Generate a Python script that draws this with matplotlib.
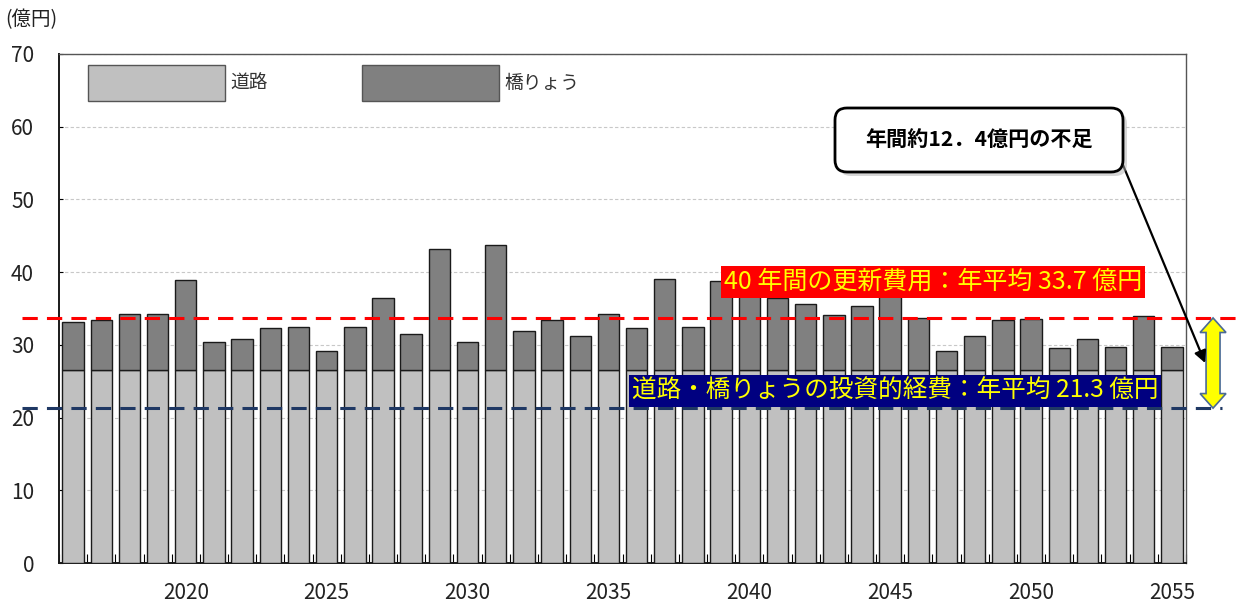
import numpy as np
import matplotlib.pyplot as plt
from matplotlib.patches import FancyBboxPatch, Polygon, Patch

plt.rcParams['font.family'] = ['Noto Sans CJK JP', 'DejaVu Sans']

# 年度ごとの更新費用（億円）
years = list(range(2016, 2056))
road = [26.6] * 40
bridge = [6.6, 6.8, 7.7, 7.7, 12.3, 3.8, 4.2, 5.7, 5.9, 2.5,
          5.9, 9.9, 4.9, 16.6, 3.8, 17.1, 5.3, 6.8, 4.6, 7.7,
          5.7, 12.5, 5.9, 12.2, 10.4, 9.8, 9.0, 7.5, 8.8, 10.4,
          7.1, 2.5, 4.6, 6.8, 7.0, 2.9, 4.2, 3.1, 7.3, 3.1]
avg_total = 33.7
avg_invest = 21.3
shortfall_text = '年間約12．4億円の不足'
label_total = '40 年間の更新費用：年平均 33.7 億円'
label_invest = '道路・橋りょうの投資的経費：年平均 21.3 億円'
yticks = [0, 10, 20, 30, 40, 50, 60, 70]
xticks = [2020, 2025, 2030, 2035, 2040, 2045, 2050, 2055]

fig = plt.figure(figsize=(12.45, 6.03), dpi=100)
ax = fig.add_axes([59 / 1245, 1 - 563 / 603, 1127 / 1245, 509 / 603])

ax.bar(years, road, width=0.76, color='#c0c0c0', edgecolor='#1a1a1a', linewidth=1.0, zorder=3)
ax.bar(years, bridge, bottom=road, width=0.76, color='#808080', edgecolor='#1a1a1a', linewidth=1.0, zorder=3)

ax.set_xlim(2015.5, 2055.5)
ax.set_ylim(0, 70)
ax.set_yticks(yticks)
ax.set_xticks(xticks)
ax.set_xticks(np.arange(2015.5, 2056, 1), minor=True)
ax.tick_params(axis='y', direction='in', length=3, pad=18, labelsize=15, labelcolor='#222222')
ax.tick_params(axis='x', which='major', length=0, pad=14, labelsize=15, labelcolor='#222222')
ax.tick_params(axis='x', which='minor', direction='in', length=6.5, width=0.8)
ax.yaxis.grid(True, color='#c8c8c8', linestyle=(0, (3, 2)), linewidth=0.8, zorder=0)
for side in ['left', 'bottom']:
    ax.spines[side].set_color('#1a1a1a')
    ax.spines[side].set_linewidth(1.4)
for side in ['top', 'right']:
    ax.spines[side].set_color('#555555')
    ax.spines[side].set_linewidth(1.0)

ax.legend([Patch(facecolor='#c0c0c0', edgecolor='#555555'), Patch(facecolor='#808080', edgecolor='#555555')],
          ['道路', '橋りょう'], loc='upper left', bbox_to_anchor=(0.026, 0.978), ncol=2,
          frameon=False, fontsize=13.5, handlelength=7.3, handleheight=2.6, handletextpad=0.3,
          columnspacing=5.0, borderpad=0, borderaxespad=0, labelcolor='#333333')

fig.text(5 / 1245, 1 - 20 / 603, '(億円)', fontsize=14, color='#222222', va='center', ha='left')

# 平均ライン（軸の外まで伸ばす）
trans = ax.get_yaxis_transform()
ax.plot([-0.033, 1.05], [avg_total, avg_total], transform=trans, color='#ff0000',
        linewidth=2.2, dashes=(5, 3), clip_on=False, zorder=5)
ax.plot([-0.033, 1.032], [avg_invest, avg_invest], transform=trans, color='#1f3864',
        linewidth=2.2, dashes=(5, 3), clip_on=False, zorder=5)

fig.text(724 / 1245, 1 - 282 / 603, label_total, fontsize=18, color='#ffff00', va='center', ha='left',
         bbox=dict(facecolor='#ff0000', edgecolor='none', pad=2), zorder=6)
fig.text(632 / 1245, 1 - 391 / 603, label_invest, fontsize=17.7, color='#ffff00', va='center', ha='left',
         bbox=dict(facecolor='#000080', edgecolor='none', pad=2), zorder=6)

# 不足分を示す両矢印
cx, hw, hh, hl = 1.024, 0.0062, 0.0115, 2.0
arrow_pts = [(cx, avg_total), (cx + hh, avg_total - hl), (cx + hw, avg_total - hl),
             (cx + hw, avg_invest + hl), (cx + hh, avg_invest + hl), (cx, avg_invest),
             (cx - hh, avg_invest + hl), (cx - hw, avg_invest + hl), (cx - hw, avg_total - hl),
             (cx - hh, avg_total - hl)]
ax.add_patch(Polygon(arrow_pts, closed=True, transform=trans, facecolor='#ffff00',
                     edgecolor='#4a6a96', linewidth=1.2, clip_on=False, zorder=6))

# 吹き出し
shadow = FancyBboxPatch((8.39, 4.27), 2.88, 0.64, boxstyle='round,pad=0,rounding_size=0.12',
                        transform=fig.dpi_scale_trans, facecolor='#b0b0b0', edgecolor='none', alpha=0.5)
box = FancyBboxPatch((8.35, 4.31), 2.88, 0.64, boxstyle='round,pad=0,rounding_size=0.12',
                     transform=fig.dpi_scale_trans, facecolor='white', edgecolor='black', linewidth=2)
fig.patches.extend([shadow, box])
fig.text(9.79 / 12.45, 4.63 / 6.03, shortfall_text, fontsize=15.2, fontweight='bold',
         ha='center', va='center')
ax.annotate('', xy=(1.017, (avg_total + avg_invest) / 2), xycoords=trans,
            xytext=(1123 / 1245, 1 - 165 / 603), textcoords='figure fraction',
            arrowprops=dict(arrowstyle='-|>', color='black', lw=1.6, mutation_scale=18,
                            shrinkA=0, shrinkB=0), zorder=7)

fig.savefig('out.png', dpi=100)
